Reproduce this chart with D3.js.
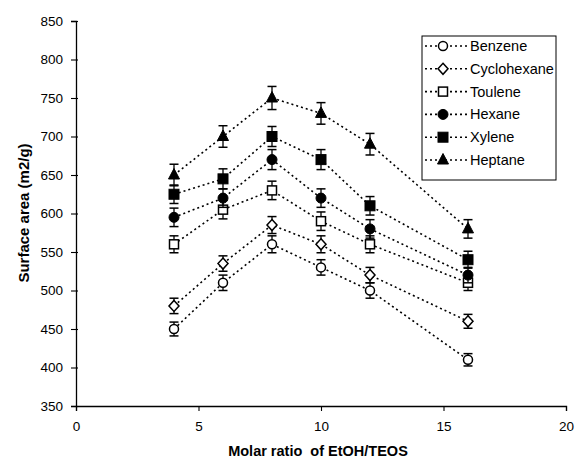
<!DOCTYPE html>
<html><head><meta charset="utf-8">
<script src="https://cdn.jsdelivr.net/npm/d3@7"></script>
<style>body{margin:0;background:#fff}svg{display:block}text{font-family:"Liberation Sans",Arial,sans-serif}</style>
</head><body><svg id="c" width="577" height="462"></svg>
<script>
const ratios = [4, 6, 8, 10, 12, 16];
const seriesNames = ["Benzene", "Cyclohexane", "Toulene", "Hexane", "Xylene", "Heptane"];
const benzene = [450, 510, 560, 530, 500, 410];
const cyclohexane = [480, 535, 585, 560, 520, 460];
const toulene = [560, 605, 630, 590, 560, 510];
const hexane = [595, 620, 670, 620, 580, 520];
const xylene = [625, 645, 700, 670, 610, 540];
const heptane = [650, 700, 750, 730, 690, 580];
const errBenzene = [9, 10, 11, 10, 10, 8];
const errCyclohexane = [10, 10, 11, 11, 10, 9];
const errToulene = [11, 12, 12, 12, 11, 10];
const errHexane = [12, 12, 13, 12, 12, 10];
const errXylene = [12, 13, 13, 13, 12, 11];
const errHeptane = [14, 14, 15, 14, 14, 12];
const xTicks = [0, 5, 10, 15, 20];
const yTicks = [350, 400, 450, 500, 550, 600, 650, 700, 750, 800, 850];
const markers = ["circleOpen", "diamondOpen", "squareOpen", "circle", "square", "triangle"];

const values = [benzene, cyclohexane, toulene, hexane, xylene, heptane];
const errs = [errBenzene, errCyclohexane, errToulene, errHexane, errXylene, errHeptane];

const svg = d3.select("#c");
const x = d3.scaleLinear().domain([0, 20]).range([76, 566]);
const y = d3.scaleLinear().domain([350, 850]).range([406, 21]);

const xAxis = svg.append("g").attr("transform", "translate(0,406)")
  .call(d3.axisBottom(x).tickValues(xTicks).tickSize(5).tickPadding(10));
const yAxis = svg.append("g").attr("transform", "translate(76,0)")
  .call(d3.axisLeft(y).tickValues(yTicks).tickSize(5).tickPadding(8));
[xAxis, yAxis].forEach(a => {
  a.select(".domain").attr("stroke", "#000").attr("stroke-width", 1.3);
  a.selectAll(".tick line").attr("stroke", "#000").attr("stroke-width", 1.1);
  a.selectAll("text").attr("font-size", 13.5).attr("fill", "#000").style("font-family", '"Liberation Sans",Arial,sans-serif');
});
yAxis.selectAll(".tick line").attr("x1", 2);

svg.append("text").attr("x", 318).attr("y", 456).attr("text-anchor", "middle")
  .attr("font-size", 14.5).attr("font-weight", "bold").attr("xml:space","preserve").text("Molar ratio  of EtOH/TEOS");
svg.append("text").attr("transform", "translate(29,213) rotate(-90)").attr("text-anchor", "middle")
  .attr("font-size", 15).attr("font-weight", "bold").text("Surface area (m2/g)");

function drawMarker(g, type, cx, cy) {
  const open = type.endsWith("Open");
  const fill = open ? "#fff" : "#000";
  let el;
  if (type.startsWith("circle")) {
    el = g.append("circle").attr("cx", cx).attr("cy", cy).attr("r", open ? 4.5 : 5);
  } else if (type.startsWith("diamond")) {
    el = g.append("path").attr("d", `M${cx},${cy-5.5}L${cx+5},${cy}L${cx},${cy+5.5}L${cx-5},${cy}Z`);
  } else if (type.startsWith("square")) {
    const s = open ? 9 : 10;
    el = g.append("rect").attr("x", cx - s/2).attr("y", cy - s/2).attr("width", s).attr("height", s);
  } else {
    el = g.append("path").attr("d", `M${cx},${cy-6.5}L${cx+5.5},${cy+4}L${cx-5.5},${cy+4}Z`);
  }
  el.attr("fill", fill).attr("stroke", "#000").attr("stroke-width", open ? 1.5 : 1);
}

const line = d3.line().x(d => x(d[0])).y(d => y(d[1]));
values.forEach((vals, si) => {
  const pts = ratios.map((r, i) => [r, vals[i]]);
  svg.append("path").attr("d", line(pts)).attr("fill", "none").attr("stroke", "#000")
    .attr("stroke-width", 1.6).attr("stroke-dasharray", "2,3");
});
values.forEach((vals, si) => {
  const g = svg.append("g");
  ratios.forEach((r, i) => {
    const cx = x(r), e = errs[si][i];
    const y1 = y(vals[i] + e), y2 = y(vals[i] - e);
    g.append("line").attr("x1", cx).attr("x2", cx).attr("y1", y1).attr("y2", y2).attr("stroke", "#000").attr("stroke-width", 1.3);
    g.append("line").attr("x1", cx - 4.5).attr("x2", cx + 4.5).attr("y1", y1).attr("y2", y1).attr("stroke", "#000").attr("stroke-width", 1.5);
    g.append("line").attr("x1", cx - 4.5).attr("x2", cx + 4.5).attr("y1", y2).attr("y2", y2).attr("stroke", "#000").attr("stroke-width", 1.5);
    drawMarker(g, markers[si], cx, y(vals[i]));
  });
});

const lg = svg.append("g");
lg.append("rect").attr("x", 422).attr("y", 36).attr("width", 134).attr("height", 144)
  .attr("fill", "#fff").attr("stroke", "#000").attr("stroke-width", 1);
seriesNames.forEach((n, i) => {
  const yy = 46 + i * 22.8;
  lg.append("line").attr("x1", 425).attr("x2", 467).attr("y1", yy).attr("y2", yy)
    .attr("stroke", "#000").attr("stroke-width", 1.6).attr("stroke-dasharray", "2,3");
  drawMarker(lg, markers[i], 443, yy);
  lg.append("text").attr("x", 470).attr("y", yy + 5).attr("font-size", 14.5).text(n);
});
</script></body></html>
